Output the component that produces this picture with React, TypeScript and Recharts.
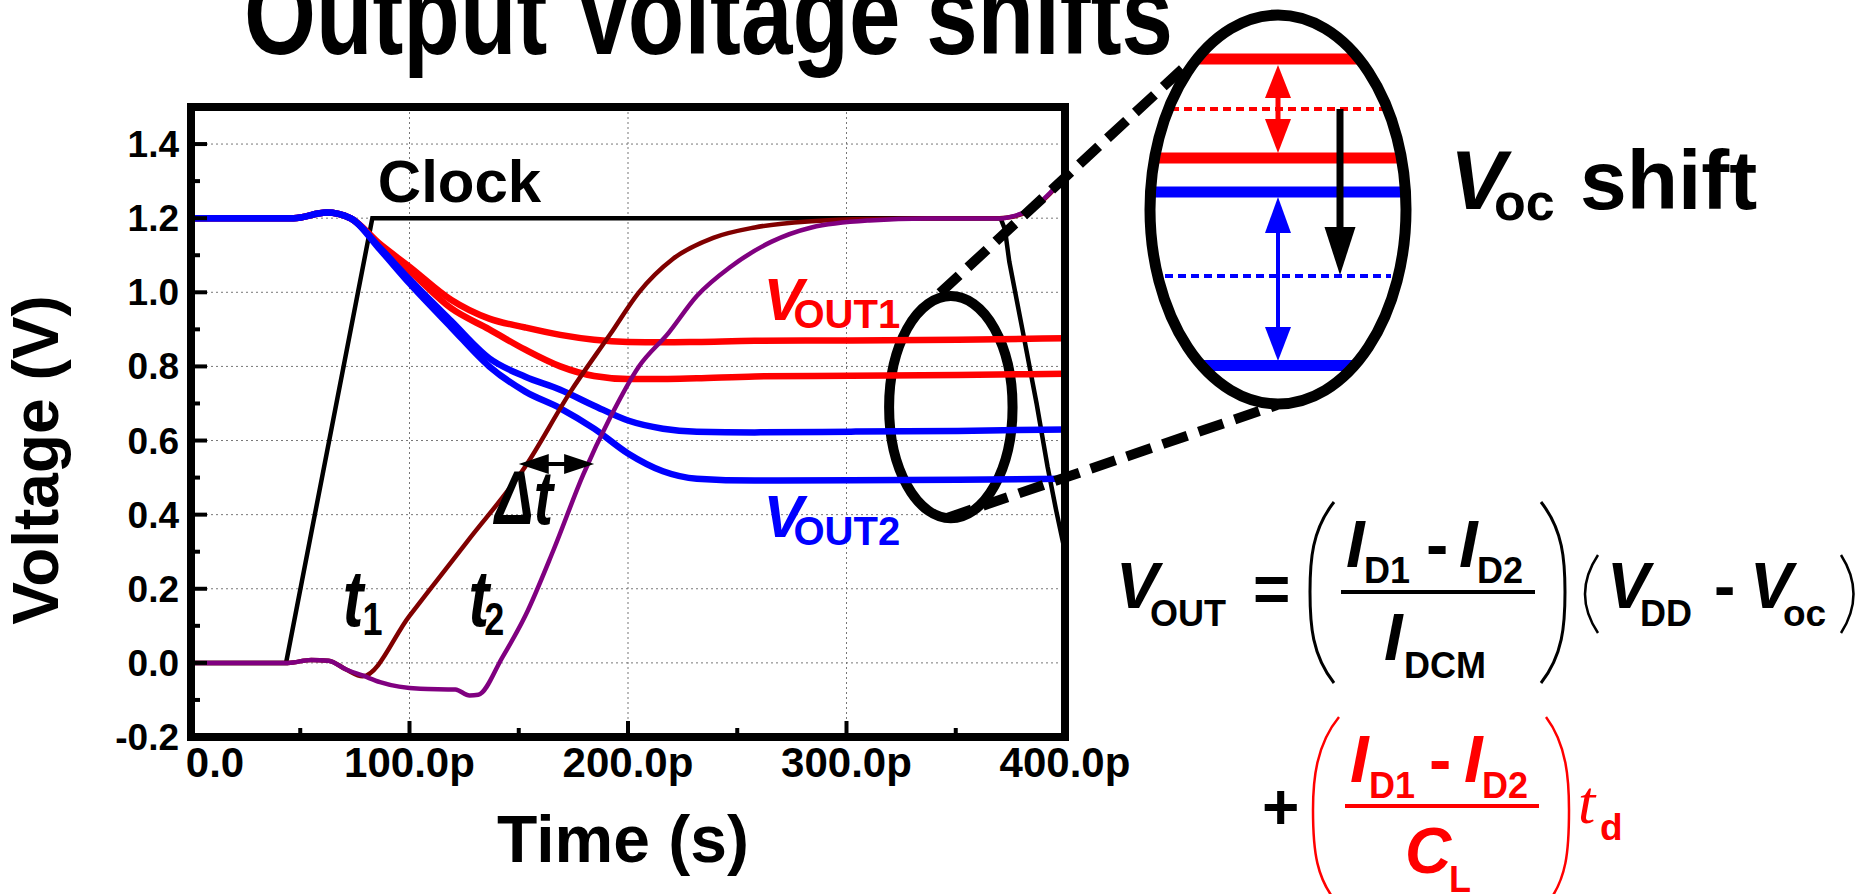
import React from 'react';
import {
  LineChart,
  Line,
  XAxis,
  YAxis,
  CartesianGrid,
  ReferenceArea,
  ReferenceDot,
  ReferenceLine,
} from 'recharts';

const FONT = "'Liberation Sans', Arial, Helvetica, sans-serif";
const SERIF = "'Liberation Serif', 'Times New Roman', serif";

// time in ps, voltage in V
const clockT = [0, 43.5, 83, 370.5, 372.5, 374.5, 380.5, 387, 392, 396, 400];
const clockV = [0, 0, 1.2, 1.2, 1.17, 1.083, 0.9, 0.7, 0.53, 0.41, 0.3];

// shared time grid for the four output curves
const voutT = [0, 47, 62, 73, 86.5, 100, 119, 136.5, 153, 169, 184.5, 200, 216, 231.5, 258, 302, 351, 400];
const vout1HighV = [1.2, 1.2, 1.215, 1.2, 1.13, 1.069, 0.98, 0.929, 0.905, 0.885, 0.872, 0.866, 0.865, 0.866, 0.869, 0.87, 0.872, 0.876];
const vout1LowV = [1.2, 1.2, 1.215, 1.2, 1.125, 1.058, 0.957, 0.9, 0.845, 0.8, 0.774, 0.766, 0.766, 0.768, 0.773, 0.775, 0.777, 0.78];
const vout2HighV = [1.2, 1.2, 1.215, 1.2, 1.12, 1.035, 0.923, 0.822, 0.772, 0.737, 0.694, 0.654, 0.632, 0.624, 0.622, 0.624, 0.626, 0.63];
const vout2LowV = [1.2, 1.2, 1.215, 1.2, 1.115, 1.024, 0.906, 0.8, 0.732, 0.687, 0.632, 0.565, 0.517, 0.497, 0.492, 0.493, 0.494, 0.497];

// t1 node (dark red)
const t1T = [0, 44.5, 55, 63, 71, 78.5, 100, 126.5, 153, 173.5, 192, 205, 220.5, 239, 258, 284, 310.5, 370, 376, 383, 390, 396, 400];
const t1V = [0, 0, 0.008, 0.006, -0.018, -0.036, 0.127, 0.328, 0.53, 0.73, 0.888, 1.0, 1.09, 1.147, 1.175, 1.192, 1.198, 1.2, 1.204, 1.218, 1.248, 1.285, 1.318];

// t2 node (purple)
const t2T = [0, 44.5, 55, 63, 71, 78.5, 86.5, 105, 121, 127.5, 131.5, 142.5, 153, 166, 179.5, 192, 205, 218.5, 231.5, 247, 265.5, 284, 310.5, 337, 370, 376, 383, 390, 396, 400];
const t2V = [0, 0, 0.008, 0.006, -0.018, -0.034, -0.052, -0.07, -0.072, -0.088, -0.086, 0.015, 0.127, 0.306, 0.508, 0.664, 0.8, 0.89, 0.99, 1.069, 1.136, 1.175, 1.194, 1.199, 1.199, 1.205, 1.22, 1.25, 1.287, 1.32];

const xTicks = [0, 50, 100, 150, 200, 250, 300, 350, 400];
const xGrid = [100, 200, 300];
const yTicks = [-0.2, -0.1, 0, 0.1, 0.2, 0.3, 0.4, 0.5, 0.6, 0.7, 0.8, 0.9, 1.0, 1.1, 1.2, 1.3, 1.4];
const yGrid = [0, 0.2, 0.4, 0.6, 0.8, 1.0, 1.2, 1.4];

const zip = (t: number[], v: number[]) => t.map((x, i) => ({ t: x, v: v[i] }));

const clockData = zip(clockT, clockV);
const v1h = zip(voutT, vout1HighV);
const v1l = zip(voutT, vout1LowV);
const v2h = zip(voutT, vout2HighV);
const v2l = zip(voutT, vout2LowV);
const t1Data = zip(t1T, t1V);
const t2Data = zip(t2T, t2V);

const isMajorX = (v: number) => v % 100 === 0;
const isMajorY = (v: number) => Math.round(v * 10) % 2 === 0;

const BottomTick = ({ x, y, payload }: any) => {
  const major = isMajorX(payload.value);
  return (
    <g>
      <line x1={x} y1={y} x2={x} y2={y - (major ? 16 : 9)} stroke="#000" strokeWidth={4} />
      {major && (
        <text
          x={payload.value === 0 ? x + 24 : x}
          y={y + 40}
          textAnchor="middle"
          fontFamily={FONT}
          fontWeight="bold"
          fontSize={42}
          fill="#000"
        >
          {payload.value === 0 ? '0.0' : `${payload.value}.0p`}
        </text>
      )}
    </g>
  );
};

const TopTick = ({ x, y, payload }: any) => (
  <line x1={x} y1={y} x2={x} y2={y + (isMajorX(payload.value) ? 16 : 9)} stroke="#000" strokeWidth={4} />
);

const LeftTick = ({ x, y, payload }: any) => {
  const major = isMajorY(payload.value);
  return (
    <g>
      <line x1={x} y1={y} x2={x + (major ? 16 : 9)} y2={y} stroke="#000" strokeWidth={4} />
      {major && (
        <text x={x - 12} y={y + 13} textAnchor="end" fontFamily={FONT} fontWeight="bold" fontSize={37} fill="#000">
          {payload.value.toFixed(1)}
        </text>
      )}
    </g>
  );
};

const RightTick = ({ x, y, payload }: any) => (
  <line x1={x} y1={y} x2={x - (isMajorY(payload.value) ? 16 : 9)} y2={y} stroke="#000" strokeWidth={4} />
);

const frame = { stroke: '#000', strokeWidth: 8, strokeLinecap: 'square' as const };

const Txt = ({ x, y, s, it, c = '#000', serif, w = 'bold', children }: any) => (
  <text
    x={x}
    y={y}
    fontSize={s}
    fontStyle={it ? 'italic' : 'normal'}
    fontWeight={w}
    fill={c}
    fontFamily={serif ? SERIF : FONT}
  >
    {children}
  </text>
);

// places a label at a data point; sy stretches tall condensed lettering
const labelShape = (content: React.ReactNode, sy = 1) => (p: any) => (
  <g transform={`translate(${p.cx},${p.cy}) scale(1,${sy})`}>{content}</g>
);

const Overlay = () => (
  <svg width={1868} height={894} style={{ position: 'absolute', left: 0, top: 0, pointerEvents: 'none' }}>
    <defs>
      <clipPath id="bigClip">
        <ellipse cx={1278} cy={209.5} rx={128} ry={194.5} />
      </clipPath>
    </defs>

    {/* title, cut off by the top edge */}
    <text
      transform="translate(244,54) scale(1,1.25)"
      x={0}
      y={0}
      fontSize={92}
      fontWeight="bold"
      fontFamily={FONT}
      textLength={929}
      lengthAdjust="spacingAndGlyphs"
    >
      Output Voltage shifts
    </text>

    {/* axis titles */}
    <text x={623} y={862} textAnchor="middle" fontSize={66} fontWeight="bold" fontFamily={FONT}>Time (s)</text>
    <text transform="translate(58,460) rotate(-90)" textAnchor="middle" fontSize={64} fontWeight="bold" fontFamily={FONT}>
      Voltage (V)
    </text>

    {/* zoom guide lines */}
    <line x1={940} y1={293} x2={1190} y2={62} stroke="#000" strokeWidth={10} strokeDasharray="26 12" />
    <line x1={947} y1={518} x2={1277} y2={405} stroke="#000" strokeWidth={10} strokeDasharray="26 12" />

    {/* magnified view */}
    <ellipse cx={1278} cy={209.5} rx={128} ry={194.5} fill="#fff" />
    <g clipPath="url(#bigClip)">
      <line x1={1140} y1={59} x2={1420} y2={59} stroke="#f00" strokeWidth={11} />
      <line x1={1171} y1={109} x2={1385} y2={109} stroke="#f00" strokeWidth={4} strokeDasharray="8 5" />
      <line x1={1140} y1={158} x2={1420} y2={158} stroke="#f00" strokeWidth={11} />
      <line x1={1140} y1={192} x2={1420} y2={192} stroke="#00f" strokeWidth={11} />
      <line x1={1165} y1={276} x2={1391} y2={276} stroke="#00f" strokeWidth={4} strokeDasharray="8 5" />
      <line x1={1140} y1={365.5} x2={1420} y2={365.5} stroke="#00f" strokeWidth={11} />
    </g>
    <line x1={1278} y1={92} x2={1278} y2={124} stroke="#f00" strokeWidth={5} />
    <polygon points="1278,65 1265,98 1291,98" fill="#f00" />
    <polygon points="1278,153 1265,119 1291,119" fill="#f00" />
    <line x1={1278} y1={228} x2={1278} y2={332} stroke="#00f" strokeWidth={4} />
    <polygon points="1278,197 1265,233 1291,233" fill="#00f" />
    <polygon points="1278,361 1265,327 1291,327" fill="#00f" />
    <line x1={1340} y1={109} x2={1340} y2={232} stroke="#000" strokeWidth={7} />
    <polygon points="1340,275 1324.5,227 1355.5,227" fill="#000" />
    <ellipse cx={1278} cy={209.5} rx={128} ry={194.5} fill="none" stroke="#000" strokeWidth={11} />

    <Txt x={1450} y={209} s={84} it>V</Txt>
    <Txt x={1494} y={220} s={52}>oc</Txt>
    <Txt x={1580} y={209} s={84}>shift</Txt>

    {/* formula, first line */}
    <Txt x={1116} y={608} s={64} it>V</Txt>
    <Txt x={1150} y={626} s={36}>OUT</Txt>
    <Txt x={1253} y={611} s={64}>=</Txt>
    <path d="M1334,502 C1312,530 1310,560 1310,592 C1310,625 1312,655 1334,683" fill="none" stroke="#000" strokeWidth={3} />
    <Txt x={1346} y={567} s={67} it>I</Txt>
    <Txt x={1364} y={583} s={36}>D1</Txt>
    <Txt x={1426} y={567} s={67}>-</Txt>
    <Txt x={1459} y={567} s={67} it>I</Txt>
    <Txt x={1477} y={583} s={36}>D2</Txt>
    <line x1={1341} y1={592} x2={1535} y2={592} stroke="#000" strokeWidth={4} />
    <Txt x={1384} y={660} s={67} it>I</Txt>
    <Txt x={1404} y={678} s={36}>DCM</Txt>
    <path d="M1541,502 C1563,530 1565,560 1565,592 C1565,625 1563,655 1541,683" fill="none" stroke="#000" strokeWidth={3} />
    <path d="M1598,555 Q1572,594 1598,633" fill="none" stroke="#000" strokeWidth={2.5} />
    <Txt x={1607} y={608} s={64} it>V</Txt>
    <Txt x={1640} y={626} s={36}>DD</Txt>
    <Txt x={1714} y={608} s={64}>-</Txt>
    <Txt x={1750} y={608} s={64} it>V</Txt>
    <Txt x={1783} y={626} s={37}>oc</Txt>
    <path d="M1841,555 Q1866,594 1841,633" fill="none" stroke="#000" strokeWidth={2.5} />

    {/* formula, second line */}
    <Txt x={1262} y={829} s={64}>+</Txt>
    <path d="M1339,717 C1316,745 1313,780 1313,810 C1313,850 1316,880 1339,905" fill="none" stroke="#f00" strokeWidth={2.5} />
    <Txt x={1350} y={782} s={67} it c="#f00">I</Txt>
    <Txt x={1369} y={798} s={36} c="#f00">D1</Txt>
    <Txt x={1429} y={782} s={67} c="#f00">-</Txt>
    <Txt x={1464} y={782} s={67} it c="#f00">I</Txt>
    <Txt x={1482} y={798} s={36} c="#f00">D2</Txt>
    <line x1={1345} y1={806} x2={1539} y2={806} stroke="#f00" strokeWidth={4} />
    <Txt x={1405} y={873} s={64} it c="#f00">C</Txt>
    <Txt x={1449} y={892} s={36} c="#f00">L</Txt>
    <path d="M1546,717 C1567,745 1569,780 1569,810 C1569,850 1567,880 1546,905" fill="none" stroke="#f00" strokeWidth={2.5} />
    <Txt x={1578} y={823} s={62} it serif w="normal" c="#f00">t</Txt>
    <Txt x={1600} y={840} s={37} c="#f00">d</Txt>
  </svg>
);

export default function App() {
  return (
    <div style={{ position: 'absolute', left: 0, top: 0, width: 1868, height: 894, background: '#fff', overflow: 'hidden' }}>
      <LineChart width={1868} height={894} margin={{ top: 106, left: 190, right: 802, bottom: 156 }}>
        <CartesianGrid
          horizontalValues={yGrid}
          verticalValues={xGrid}
          stroke="#777"
          strokeDasharray="2 3"
          strokeWidth={1}
        />
        <XAxis
          dataKey="t"
          type="number"
          domain={[0, 400]}
          ticks={xTicks}
          interval={0}
          height={1}
          tickSize={0}
          tickMargin={0}
          tickLine={false}
          tick={<BottomTick />}
          axisLine={frame}
        />
        <XAxis
          xAxisId="top"
          orientation="top"
          dataKey="t"
          type="number"
          domain={[0, 400]}
          ticks={xTicks}
          interval={0}
          height={1}
          tickSize={0}
          tickMargin={0}
          tickLine={false}
          tick={<TopTick />}
          axisLine={frame}
        />
        <YAxis
          type="number"
          domain={[-0.2, 1.5]}
          ticks={yTicks}
          interval={0}
          width={1}
          tickSize={0}
          tickMargin={0}
          tickLine={false}
          tick={<LeftTick />}
          axisLine={frame}
        />
        <YAxis
          yAxisId="right"
          orientation="right"
          type="number"
          domain={[-0.2, 1.5]}
          ticks={yTicks}
          interval={0}
          width={1}
          tickSize={0}
          tickMargin={0}
          tickLine={false}
          tick={<RightTick />}
          axisLine={frame}
        />

        <Line data={clockData} dataKey="v" type="linear" stroke="#000" strokeWidth={4.5} dot={false} isAnimationActive={false} />
        <Line data={v1h} dataKey="v" type="monotone" stroke="#f00" strokeWidth={6.5} dot={false} isAnimationActive={false} />
        <Line data={v1l} dataKey="v" type="monotone" stroke="#f00" strokeWidth={6.5} dot={false} isAnimationActive={false} />
        <Line data={v2h} dataKey="v" type="monotone" stroke="#00f" strokeWidth={6.5} dot={false} isAnimationActive={false} />
        <Line data={v2l} dataKey="v" type="monotone" stroke="#00f" strokeWidth={6.5} dot={false} isAnimationActive={false} />
        <Line data={t1Data} dataKey="v" type="monotone" stroke="#800000" strokeWidth={4.5} dot={false} isAnimationActive={false} />
        <Line data={t2Data} dataKey="v" type="monotone" stroke="#800080" strokeWidth={4.5} dot={false} isAnimationActive={false} />

        {/* circled group of steady-state outputs */}
        <ReferenceArea
          x1={319.5}
          x2={376}
          y1={0.39}
          y2={0.99}
          shape={(p: any) => (
            <ellipse
              cx={p.x + p.width / 2}
              cy={p.y + p.height / 2}
              rx={p.width / 2}
              ry={p.height / 2}
              fill="none"
              stroke="#000"
              strokeWidth={10}
            />
          )}
        />

        {/* delta-t arrow */}
        <ReferenceLine
          segment={[{ x: 150, y: 0.537 }, { x: 184.5, y: 0.537 }]}
          shape={(p: any) => (
            <g>
              <line x1={p.x1 + 20} y1={p.y1} x2={p.x2 - 20} y2={p.y2} stroke="#000" strokeWidth={4} />
              <polygon points={`${p.x1},${p.y1} ${p.x1 + 30},${p.y1 - 10} ${p.x1 + 30},${p.y1 + 10}`} fill="#000" />
              <polygon points={`${p.x2},${p.y2} ${p.x2 - 30},${p.y2 - 10} ${p.x2 - 30},${p.y2 + 10}`} fill="#000" />
            </g>
          )}
        />

        <ReferenceDot x={85.5} y={1.244} r={0} shape={labelShape(<Txt x={0} y={0} s={60}>Clock</Txt>)} />
        <ReferenceDot
          x={262}
          y={0.925}
          r={0}
          shape={labelShape(
            <text fontFamily={FONT} fontWeight="bold" fill="#f00">
              <tspan fontSize={60} fontStyle="italic">V</tspan>
              <tspan fontSize={40} dx={-10} dy={8}>OUT1</tspan>
            </text>
          )}
        />
        <ReferenceDot
          x={262}
          y={0.34}
          r={0}
          shape={labelShape(
            <text fontFamily={FONT} fontWeight="bold" fill="#00f">
              <tspan fontSize={60} fontStyle="italic">V</tspan>
              <tspan fontSize={40} dx={-10} dy={8}>OUT2</tspan>
            </text>
          )}
        />
        <ReferenceDot
          x={69.5}
          y={0.1}
          r={0}
          shape={labelShape(
            <text fontFamily={FONT} fontWeight="bold" fill="#000">
              <tspan fontSize={62} fontStyle="italic">t</tspan>
              <tspan fontSize={36} dx={-1} dy={7}>1</tspan>
            </text>,
            1.28
          )}
        />
        <ReferenceDot
          x={127}
          y={0.1}
          r={0}
          shape={labelShape(
            <text fontFamily={FONT} fontWeight="bold" fill="#000">
              <tspan fontSize={62} fontStyle="italic">t</tspan>
              <tspan fontSize={36} dx={-5} dy={7}>2</tspan>
            </text>,
            1.28
          )}
        />
        <ReferenceDot
          x={139}
          y={0.375}
          r={0}
          shape={labelShape(<Txt x={0} y={0} s={58} it>Δt</Txt>, 1.3)}
        />
      </LineChart>
      <Overlay />
    </div>
  );
}
